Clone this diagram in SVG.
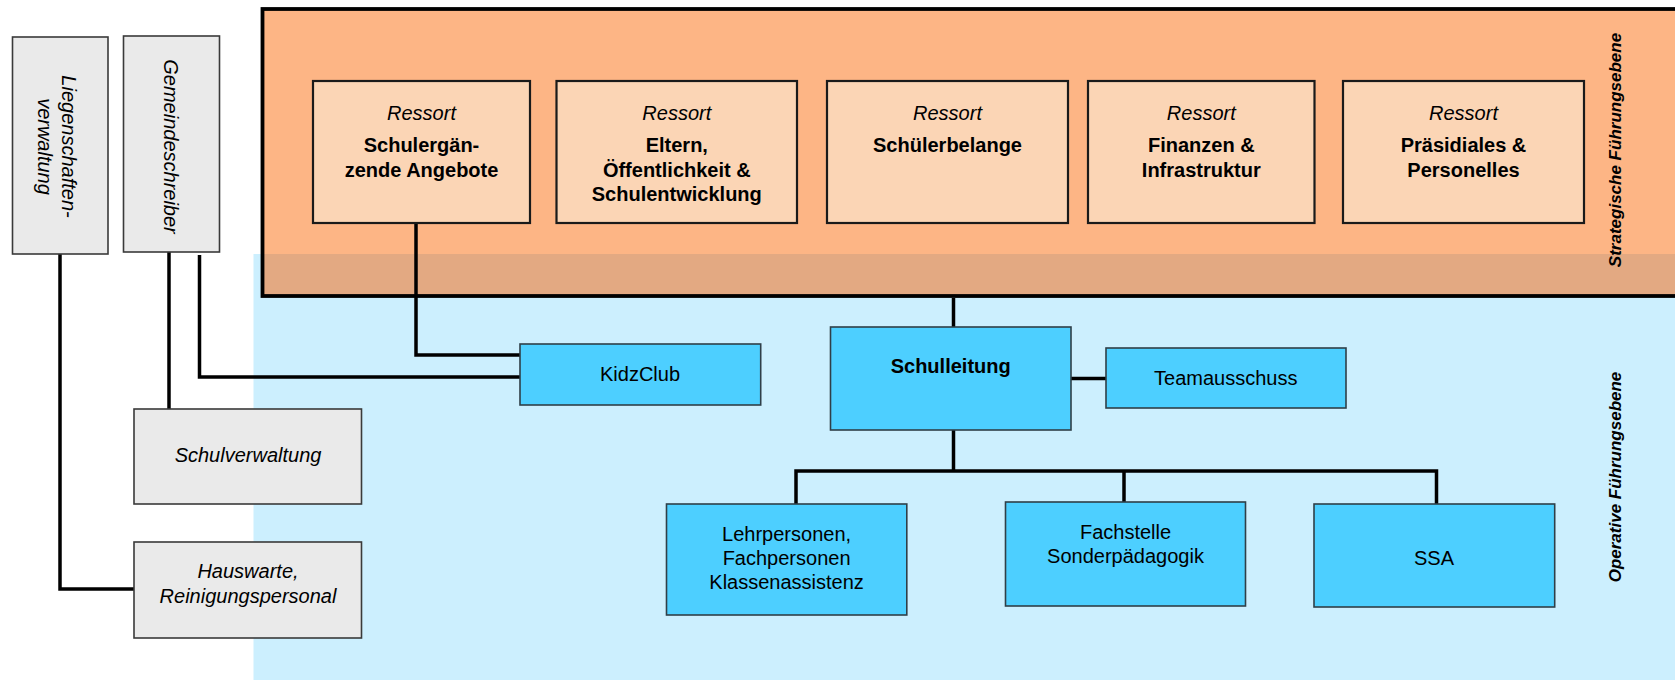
<svg xmlns="http://www.w3.org/2000/svg" width="1675" height="680" viewBox="0 0 1675 680">
<style>
text{font-family:"Liberation Sans",Arial,sans-serif;font-size:20px;fill:#000;text-anchor:middle}
.it{font-style:italic}
.b{font-weight:bold}
.lvl{font-size:17px;font-weight:bold;font-style:italic}
.ressort{fill:#FBD5B5;stroke:#1a1a1a;stroke-width:2.2}
.blue{fill:#4DCFFF;stroke:#2f3f48;stroke-width:1.6}
.grey{fill:#EAEAEA;stroke:#3a3a3a;stroke-width:1.6}
.conn{fill:none;stroke:#000;stroke-width:3.5;stroke-linejoin:miter}
</style>
<rect width="1675" height="680" fill="#fff"/>
<g id="background">
<rect x="253.5" y="254" width="1425" height="430" fill="#CCEFFE"/>
<rect x="262.5" y="9" width="1430" height="287" fill="#FDB585"/>
<rect x="262.5" y="254" width="1430" height="42" fill="#E3A982"/>
<rect x="262.5" y="9" width="1430" height="287" fill="none" stroke="#000" stroke-width="3.8"/>
<text class="lvl" transform="translate(1621,150) rotate(-90)">Strategische Führungsebene</text>
<text class="lvl" transform="translate(1621,477) rotate(-90)">Operative Führungsebene</text>
</g>
<g id="connectors">
<path class="conn" d="M416,223 V355 H520"/>
<path class="conn" d="M169,252 V409"/>
<path class="conn" d="M199.5,255 V377 H520"/>
<path class="conn" d="M60,254 V589 H134"/>
<path class="conn" d="M953.5,298 V327"/>
<path class="conn" d="M1071,378.5 H1106"/>
<path class="conn" d="M953.5,430 V471"/>
<path class="conn" d="M796,504 V471 H1436.5 V504"/>
<path class="conn" d="M1124,471 V502"/>
</g>
<g id="liegenschaftenverwaltung">
<rect class="grey" x="12.5" y="37" width="95.5" height="217"/>
<text class="it" transform="translate(62,146.5) rotate(90)">Liegenschaften-</text>
<text class="it" transform="translate(38,146.5) rotate(90)">verwaltung</text>
</g>
<g id="gemeindeschreiber">
<rect class="grey" x="123.5" y="36" width="96" height="216"/>
<text class="it" transform="translate(164,146.5) rotate(90)">Gemeindeschreiber</text>
</g>
<g id="ressort-schulergaenzende">
<rect class="ressort" x="313" y="81" width="217" height="142"/>
<text class="it" x="421.5" y="120">Ressort</text>
<text class="b" x="421.5" y="152">Schulergän-</text>
<text class="b" x="421.5" y="176.5">zende Angebote</text>
</g>
<g id="ressort-eltern">
<rect class="ressort" x="556.5" y="81" width="240.5" height="142"/>
<text class="it" x="676.8" y="120">Ressort</text>
<text class="b" x="676.8" y="152">Eltern,</text>
<text class="b" x="676.8" y="176.5">Öffentlichkeit &amp;</text>
<text class="b" x="676.8" y="201">Schulentwicklung</text>
</g>
<g id="ressort-schuelerbelange">
<rect class="ressort" x="827" y="81" width="241" height="142"/>
<text class="it" x="947.5" y="120">Ressort</text>
<text class="b" x="947.5" y="152">Schülerbelange</text>
</g>
<g id="ressort-finanzen">
<rect class="ressort" x="1088" y="81" width="226.5" height="142"/>
<text class="it" x="1201.3" y="120">Ressort</text>
<text class="b" x="1201.3" y="152">Finanzen &amp;</text>
<text class="b" x="1201.3" y="176.5">Infrastruktur</text>
</g>
<g id="ressort-praesidiales">
<rect class="ressort" x="1343" y="81" width="241" height="142"/>
<text class="it" x="1463.5" y="120">Ressort</text>
<text class="b" x="1463.5" y="152">Präsidiales &amp;</text>
<text class="b" x="1463.5" y="176.5">Personelles</text>
</g>
<g id="kidzclub">
<rect class="blue" x="520" y="344" width="240.7" height="61"/>
<text x="640" y="381">KidzClub</text>
</g>
<g id="schulleitung">
<rect class="blue" x="830.5" y="327" width="240.5" height="103"/>
<text class="b" x="950.7" y="373.3">Schulleitung</text>
</g>
<g id="teamausschuss">
<rect class="blue" x="1106" y="348" width="240" height="60"/>
<text x="1225.8" y="385">Teamausschuss</text>
</g>
<g id="schulverwaltung">
<rect class="grey" x="134" y="409" width="227.5" height="95"/>
<text class="it" x="248" y="461.7">Schulverwaltung</text>
</g>
<g id="hauswarte">
<rect class="grey" x="134" y="542" width="227.5" height="96"/>
<text class="it" x="248" y="578.3">Hauswarte,</text>
<text class="it" x="248" y="603.3">Reinigungspersonal</text>
</g>
<g id="lehrpersonen">
<rect class="blue" x="666.5" y="504" width="240.3" height="111"/>
<text x="786.6" y="541">Lehrpersonen,</text>
<text x="786.6" y="565">Fachpersonen</text>
<text x="786.6" y="589">Klassenassistenz</text>
</g>
<g id="fachstelle">
<rect class="blue" x="1005.5" y="502" width="240" height="104"/>
<text x="1125.5" y="539">Fachstelle</text>
<text x="1125.5" y="563.3">Sonderpädagogik</text>
</g>
<g id="ssa">
<rect class="blue" x="1314" y="504" width="240.7" height="103"/>
<text x="1434" y="565">SSA</text>
</g>
</svg>
